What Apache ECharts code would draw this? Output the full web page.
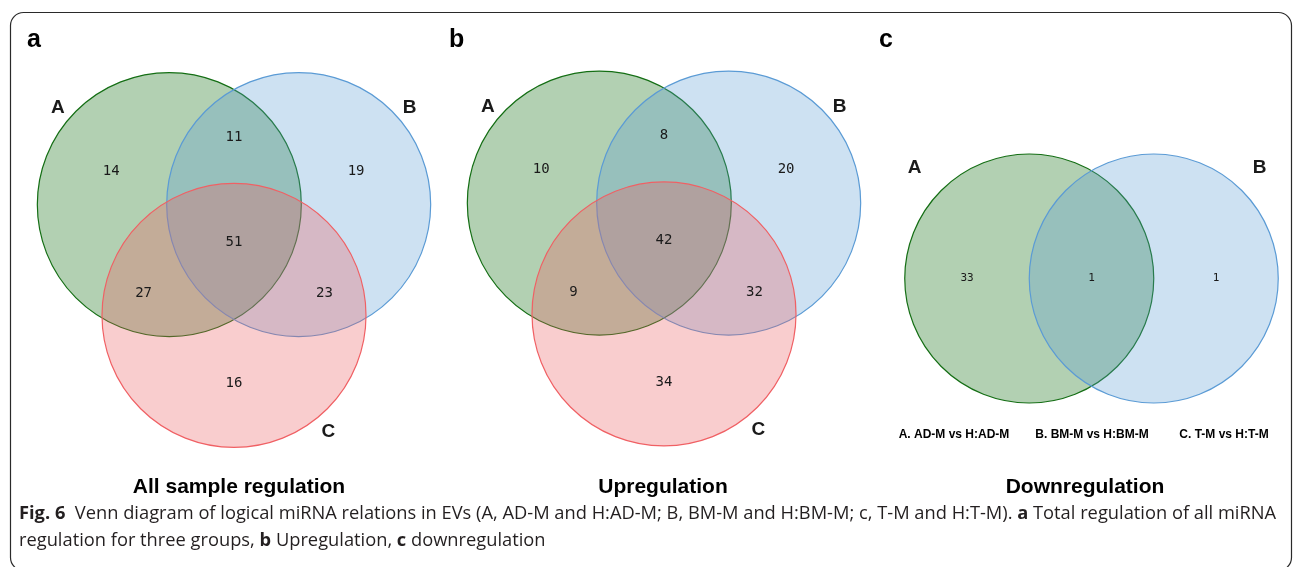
<!DOCTYPE html>
<html><head><meta charset="utf-8">
<script src="https://cdn.jsdelivr.net/npm/echarts@6/dist/echarts.min.js"></script>
<style>html,body{margin:0;padding:0;background:#fff}#c{width:1295px;height:567px}</style>
</head><body><div id="c"></div>
<script>
// ---------- data ----------
const panelLetters = ['a', 'b', 'c'];
const panelTitles = ['All sample regulation', 'Upregulation', 'Downregulation'];
const setNames3 = ['A', 'B', 'C'];
const setNames2 = ['A', 'B'];
const regions3 = ['A', 'AB', 'B', 'AC', 'ABC', 'BC', 'C'];
const allCounts = [14, 11, 19, 27, 51, 23, 16];
const upCounts = [10, 8, 20, 9, 42, 32, 34];
const regions2 = ['A', 'AB', 'B'];
const downCounts = [33, 1, 1];
const groupLabels = ['A. AD-M vs H:AD-M', 'B. BM-M vs H:BM-M', 'C. T-M vs H:T-M'];
const captionBold = 'Fig. 6';
const captionRest1 = 'Venn diagram of logical miRNA relations in EVs (A, AD-M and H:AD-M; B, BM-M and H:BM-M; c, T-M and H:T-M).';
const captionA = 'a';
const captionRest2 = 'Total regulation of all miRNA';
const captionLine2a = 'regulation for three groups,';
const captionB = 'b';
const captionLine2b = 'Upregulation,';
const captionC = 'c';
const captionLine2c = 'downregulation';

// ---------- geometry (unit radius Venn layout) ----------
const circle3 = { A: [-0.49, 0.42], B: [0.49, 0.42], C: [0, -0.42] };
const circle2 = { A: [-0.5, 0], B: [0.5, 0] };
const anchor3 = { A: [-0.93, 0.675], AB: [0, 0.93], B: [0.925, 0.675], AC: [-0.685, -0.255], ABC: [0, 0.135], BC: [0.685, -0.255], C: [0, -0.935] };
const anchor2 = { A: [-1.0, 0], AB: [0, 0], B: [1.0, 0] };
const setLabel3 = { A: [-1.335, 1.15], B: [1.33, 1.15], C: [0.715, -1.30] };
const setLabel2 = { A: [-1.42, 0.89], B: [1.35, 0.89] };

const fills = { A: 'rgba(0,100,0,0.3)', B: 'rgba(91,155,213,0.3)', C: 'rgba(236,88,92,0.3)' };
const strokes = { A: 'rgb(20,110,20)', B: 'rgb(91,155,213)', C: 'rgb(240,96,100)' };

const grids = [
  { left: 36, top: 62, width: 396, height: 396 },
  { left: 466, top: 60.5, width: 396, height: 396 },
  { left: 904.75, top: 91.75, width: 373.5, height: 373.5 }
];

const chart = echarts.init(document.getElementById('c'), null, { renderer: 'canvas' });

function circleSeries(gi, names, centers) {
  return {
    type: 'custom', xAxisIndex: gi, yAxisIndex: gi, silent: true, clip: false,
    data: names.map((n, i) => [centers[n][0], centers[n][1], 1, i]),
    renderItem: function (params, api) {
      const c = api.coord([api.value(0), api.value(1)]);
      const r = api.size([api.value(2), 0])[0];
      const n = names[api.value(3)];
      return { type: 'circle', shape: { cx: c[0], cy: c[1], r: r },
        style: { fill: fills[n], stroke: strokes[n], lineWidth: 1.2 } };
    }
  };
}
function textSeries(gi, keys, anchors, texts, font) {
  return {
    type: 'custom', xAxisIndex: gi, yAxisIndex: gi, silent: true, clip: false, z: 5,
    data: keys.map((k, i) => [anchors[k][0], anchors[k][1], i]),
    renderItem: function (params, api) {
      const c = api.coord([api.value(0), api.value(1)]);
      return { type: 'text', x: c[0], y: c[1],
        style: { text: String(texts[api.value(2)]), font: font, fill: '#1a1a1a', align: 'center', verticalAlign: 'middle' } };
    }
  };
}

const numFont3 = '14px "DejaVu Sans Mono", monospace';
const numFont2 = '11px "DejaVu Sans Mono", monospace';
const setFont = 'bold 19px "Liberation Sans", Arial, sans-serif';

const series = [
  circleSeries(0, setNames3, circle3),
  textSeries(0, regions3, anchor3, allCounts, numFont3),
  textSeries(0, setNames3, setLabel3, setNames3, setFont),
  circleSeries(1, setNames3, circle3),
  textSeries(1, regions3, anchor3, upCounts, numFont3),
  textSeries(1, setNames3, setLabel3, setNames3, setFont),
  circleSeries(2, setNames2, circle2),
  textSeries(2, regions2, anchor2, downCounts, numFont2),
  textSeries(2, setNames2, setLabel2, setNames2, setFont)
];

const titleX = [239, 663, 1085];
const letterX = [27, 449, 879];
const legendX = [954, 1092, 1224];
const graphic = [
  { type: 'rect', shape: { x: 10.5, y: 12.5, width: 1281, height: 558, r: 13 }, style: { fill: 'none', stroke: '#2a2a2a', lineWidth: 1.2 }, silent: true }
];
panelLetters.forEach((l, i) => graphic.push({ type: 'text', x: letterX[i], y: 40,
  style: { text: l, font: 'bold 25px "Liberation Sans", Arial, sans-serif', fill: '#000', align: 'left', verticalAlign: 'middle' } }));
panelTitles.forEach((t, i) => graphic.push({ type: 'text', x: titleX[i], y: 487,
  style: { text: t, font: 'bold 21px "Liberation Sans", Arial, sans-serif', fill: '#000', align: 'center', verticalAlign: 'middle' } }));
groupLabels.forEach((t, i) => graphic.push({ type: 'text', x: legendX[i], y: 435,
  style: { text: t, font: 'bold 12px "Liberation Sans", Arial, sans-serif', fill: '#000', align: 'center', verticalAlign: 'middle' } }));
const capFont = '18.3px "Open Sans", sans-serif';
const capRich = { b: { fontWeight: 'bold', fontFamily: 'Open Sans', fontSize: 18.3, fill: '#231f20' } };
graphic.push({ type: 'text', x: 19, y: 514,
  style: { text: '{b|' + captionBold + '}  ' + captionRest1 + ' {b|' + captionA + '} ' + captionRest2,
    font: capFont, fill: '#231f20', align: 'left', verticalAlign: 'middle', rich: capRich } });
graphic.push({ type: 'text', x: 19, y: 541,
  style: { text: captionLine2a + ' {b|' + captionB + '} ' + captionLine2b + ' {b|' + captionC + '} ' + captionLine2c,
    font: capFont, fill: '#231f20', align: 'left', verticalAlign: 'middle', rich: capRich } });

const xAxes = [], yAxes = [];
grids.forEach((g, i) => {
  xAxes.push({ type: 'value', gridIndex: i, min: -1.5, max: 1.5, show: false });
  yAxes.push({ type: 'value', gridIndex: i, min: -1.5, max: 1.5, show: false });
});

chart.setOption({
  animation: false,
  backgroundColor: '#fff',
  grid: grids,
  xAxis: xAxes,
  yAxis: yAxes,
  series: series,
  graphic: graphic
});
</script></body></html>
